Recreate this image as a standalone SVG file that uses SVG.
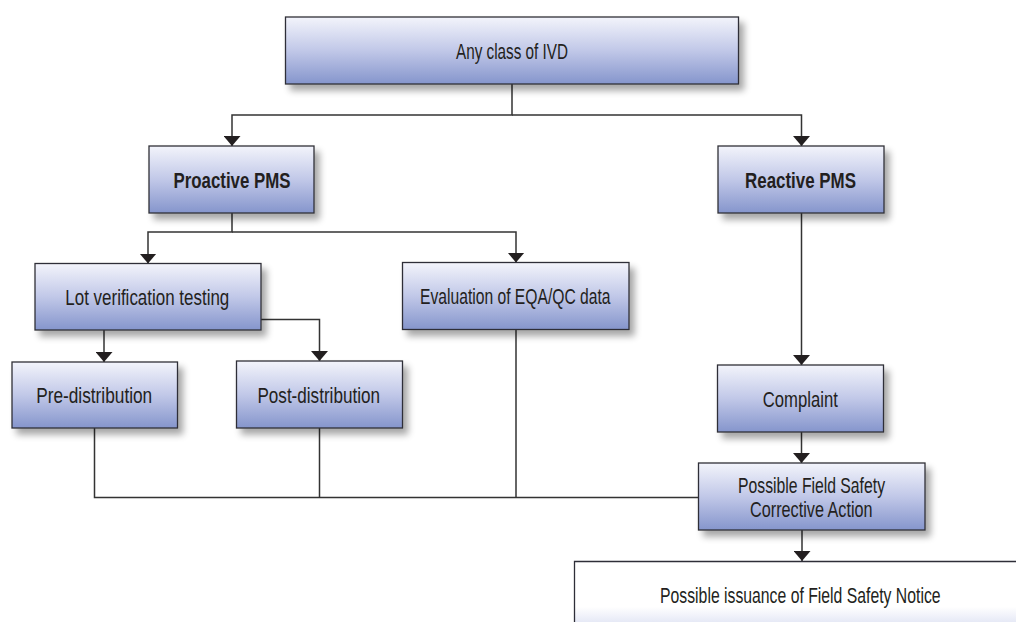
<svg xmlns="http://www.w3.org/2000/svg" width="1016" height="622" viewBox="0 0 1016 622">
  <defs>
    <linearGradient id="boxFill" x1="0" y1="0" x2="0" y2="1">
      <stop offset="0" stop-color="#f3f4fb"/>
      <stop offset="0.5" stop-color="#c1c8e8"/>
      <stop offset="1" stop-color="#8595cc"/>
    </linearGradient>
    <linearGradient id="noticeFill" x1="0" y1="0" x2="0" y2="1">
      <stop offset="0" stop-color="#ffffff"/>
      <stop offset="0.75" stop-color="#ffffff"/>
      <stop offset="1" stop-color="#e6e9f6"/>
    </linearGradient>
    <filter id="shadow" x="-10%" y="-20%" width="130%" height="150%">
      <feGaussianBlur in="SourceAlpha" stdDeviation="3.5"/>
      <feOffset dx="5" dy="6" result="blur"/>
      <feComponentTransfer><feFuncA type="linear" slope="0.35"/></feComponentTransfer>
      <feMerge><feMergeNode/><feMergeNode in="SourceGraphic"/></feMerge>
    </filter>
    <marker id="arrow" viewBox="0 0 10 17" refX="10" refY="8.5" markerWidth="10" markerHeight="17" markerUnits="userSpaceOnUse" orient="auto">
      <path d="M0,0 L10,8.5 L0,17 z" fill="#231f20"/>
    </marker>
  </defs>
  <style>
    .box { fill: url(#boxFill); stroke: #2e2e38; stroke-width: 1.3; filter: url(#shadow); }
    .notice { fill: url(#noticeFill); }
    .edge { fill: none; stroke: #2e2e38; stroke-width: 1.3; }
    .lbl { font-family: "Liberation Sans", Arial, sans-serif; font-size: 22px; fill: #231f20; text-anchor: middle; }
    .bold { font-weight: bold; }
    .link { fill: none; stroke: #333333; stroke-width: 1.5; }
  </style>
  <rect width="1016" height="622" fill="#ffffff"/>

  <!-- connectors -->
  <g id="connectors">
    <path class="link" d="M512,84 V115 H232 V146" marker-end="url(#arrow)"/>
    <path class="link" d="M512,115 H801.5 V146" marker-end="url(#arrow)"/>
    <path class="link" d="M232,213 V232 H148 V263.5" marker-end="url(#arrow)"/>
    <path class="link" d="M232,232 H516 V262.5" marker-end="url(#arrow)"/>
    <path class="link" d="M104,330 V362" marker-end="url(#arrow)"/>
    <path class="link" d="M261,319.5 H319.5 V361" marker-end="url(#arrow)"/>
    <path class="link" d="M801.5,213 V365" marker-end="url(#arrow)"/>
    <path class="link" d="M801.5,432 V463" marker-end="url(#arrow)"/>
    <path class="link" d="M802,530 V561" marker-end="url(#arrow)"/>
    <path class="link" d="M94.5,428 V497.5 H698.5"/>
    <path class="link" d="M319.5,428 V497.5"/>
    <path class="link" d="M516,329.5 V497.5"/>
  </g>

  <!-- condensed labels: glyphs narrowed with textLength -->
  <g id="any-class">
    <rect class="box" x="285.5" y="17" width="453" height="67"/>
    <text class="lbl" x="512" y="58.5" textLength="112" lengthAdjust="spacingAndGlyphs">Any class of IVD</text>
  </g>
  <g id="proactive">
    <rect class="box" x="149" y="146" width="165" height="67"/>
    <text class="lbl bold" x="232" y="187.5" textLength="117" lengthAdjust="spacingAndGlyphs">Proactive PMS</text>
  </g>
  <g id="reactive">
    <rect class="box" x="718" y="146" width="166" height="67"/>
    <text class="lbl bold" x="800.5" y="187.5" textLength="111" lengthAdjust="spacingAndGlyphs">Reactive PMS</text>
  </g>
  <g id="lot-testing">
    <rect class="box" x="35" y="263.5" width="226" height="66.5"/>
    <text class="lbl" x="147.3" y="305" textLength="164" lengthAdjust="spacingAndGlyphs">Lot verification testing</text>
  </g>
  <g id="eqa-qc">
    <rect class="box" x="402.5" y="262.5" width="226.5" height="67"/>
    <text class="lbl" x="515.3" y="304" textLength="190.5" lengthAdjust="spacingAndGlyphs">Evaluation of EQA/QC data</text>
  </g>
  <g id="pre-distribution">
    <rect class="box" x="12" y="362" width="165.5" height="66"/>
    <text class="lbl" x="94.2" y="403" textLength="116" lengthAdjust="spacingAndGlyphs">Pre-distribution</text>
  </g>
  <g id="post-distribution">
    <rect class="box" x="236.5" y="361" width="166" height="67"/>
    <text class="lbl" x="318.7" y="402.5" textLength="122.5" lengthAdjust="spacingAndGlyphs">Post-distribution</text>
  </g>
  <g id="complaint">
    <rect class="box" x="717.5" y="365" width="166" height="67"/>
    <text class="lbl" x="800.3" y="406.5" textLength="75" lengthAdjust="spacingAndGlyphs">Complaint</text>
  </g>
  <g id="fsca">
    <rect class="box" x="698.5" y="463" width="226.5" height="67"/>
    <text class="lbl" x="811.5" y="493" textLength="147" lengthAdjust="spacingAndGlyphs">Possible Field Safety</text>
    <text class="lbl" x="811.3" y="517" textLength="122.5" lengthAdjust="spacingAndGlyphs">Corrective Action</text>
  </g>
  <!-- notice box runs past the right and bottom edges: only top and left borders are drawn -->
  <g id="fsn">
    <rect class="notice" x="574" y="561" width="442" height="61"/>
    <path class="edge" d="M574.5,622 V561.5 H1016"/>
    <text class="lbl" x="800.3" y="603" textLength="280.5" lengthAdjust="spacingAndGlyphs">Possible issuance of Field Safety Notice</text>
  </g>
</svg>
